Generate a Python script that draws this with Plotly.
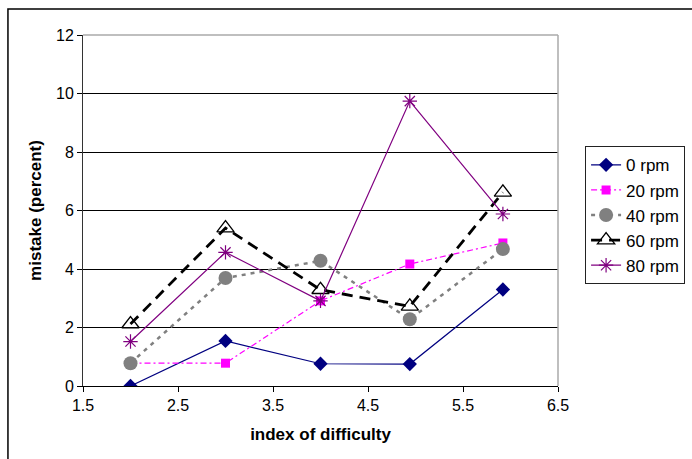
import plotly.graph_objects as go

# index of difficulty for each target condition
index_of_difficulty = [2.0, 3.0, 4.0, 4.94, 5.92]

# mistake rate (percent) per rotation speed
mistake_0rpm = [0.0, 1.54, 0.76, 0.75, 3.30]
mistake_20rpm = [0.78, 0.78, 2.91, 4.17, 4.89]
mistake_40rpm = [0.78, 3.69, 4.28, 2.28, 4.68]
mistake_60rpm = [2.12, 5.40, 3.29, 2.72, 6.62]
mistake_80rpm = [1.52, 4.57, 2.91, 9.74, 5.88]

series_names = ["0 rpm", "20 rpm", "40 rpm", "60 rpm", "80 rpm"]
x_ticks = [1.5, 2.5, 3.5, 4.5, 5.5, 6.5]
y_ticks = [0, 2, 4, 6, 8, 10, 12]

styles = [
    dict(line=dict(color="#000080", width=1.2), marker=dict(symbol="diamond", size=11, color="#000080")),
    dict(line=dict(color="#FF00FF", width=1.2, dash="6px,3px,2px,3px"), marker=dict(symbol="square", size=9, color="#FF00FF")),
    dict(line=dict(color="#808080", width=2.5, dash="4px,5px"), marker=dict(symbol="circle", size=14, color="#808080")),
    dict(line=dict(color="#000000", width=2.8, dash="11px,7px"),
         marker=dict(symbol="triangle-up-open", size=15, color="#000000", line=dict(width=1.3))),
    dict(line=dict(color="#800080", width=1.2), marker=dict(symbol="asterisk-open", size=12, color="#800080", line=dict(width=1.2, color="#800080"))),
]

series_values = [mistake_0rpm, mistake_20rpm, mistake_40rpm, mistake_60rpm, mistake_80rpm]

fig = go.Figure()
for name, values, style in zip(series_names, series_values, styles):
    fig.add_trace(go.Scatter(x=index_of_difficulty, y=values, mode="lines+markers",
                             name=name, line=style["line"], marker=style["marker"]))

font_family = "Liberation Sans, Arial, sans-serif"

fig.update_layout(
    width=692, height=459,
    margin=dict(l=83, r=134, t=35, b=73, autoexpand=False),
    paper_bgcolor="white", plot_bgcolor="white",
    font=dict(family=font_family, size=16, color="black"),
    showlegend=True,
    legend=dict(x=1.057, y=0.683, xanchor="left", yanchor="top",
                bordercolor="#222222", borderwidth=1, bgcolor="white",
                font=dict(size=17), tracegroupgap=0, itemwidth=30),
    xaxis=dict(range=[1.5, 6.5], tickvals=x_ticks, ticktext=[str(v) for v in x_ticks],
               showgrid=False, zeroline=False, ticks="outside", ticklen=5,
               tickcolor="black", showline=True, linecolor="black", linewidth=1,
               mirror=False,
               title=dict(text="<b>index of difficulty</b>", font=dict(size=17), standoff=14)),
    yaxis=dict(range=[0, 12], tickvals=y_ticks, showgrid=True, gridcolor="black", gridwidth=1.2,
               zeroline=False, ticks="outside", ticklen=5, tickcolor="black",
               showline=True, linecolor="#333333", linewidth=1,
               title=dict(text="<b>mistake (percent)</b>", font=dict(size=17), standoff=10)),
)

# plot-area frame (top and right edges) in light gray
fig.add_shape(type="line", xref="paper", yref="paper", x0=0, x1=1, y0=1, y1=1,
              line=dict(color="#aaaaaa", width=1.5))
fig.add_shape(type="line", xref="paper", yref="paper", x0=1, x1=1, y0=0, y1=1,
              line=dict(color="#aaaaaa", width=1.5))

# chart-area border
fig.add_shape(type="rect", xref="paper", yref="paper", x0=-0.158, x1=1.6, y0=-0.5, y1=1.074,
              line=dict(color="black", width=1.5), layer="below")

fig.write_html("out.html")
